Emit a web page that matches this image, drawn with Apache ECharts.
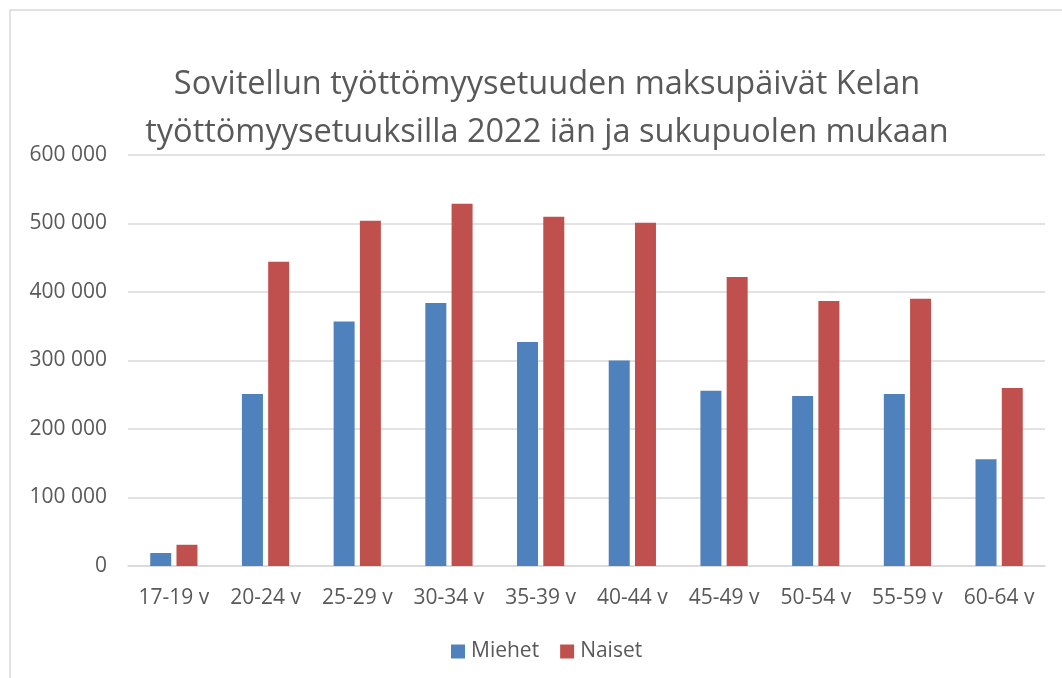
<!DOCTYPE html>
<html>
<head>
<meta charset="utf-8">
<script src="https://cdn.jsdelivr.net/npm/echarts@6/dist/echarts.min.js"></script>
<style>
  html, body { margin: 0; padding: 0; background: #fff; }
  #main { width: 1062px; height: 678px; }
</style>
</head>
<body>
<div id="main"></div>
<script>
// ikäryhmät
var ageGroups = ['17-19 v', '20-24 v', '25-29 v', '30-34 v', '35-39 v', '40-44 v', '45-49 v', '50-54 v', '55-59 v', '60-64 v'];
// maksupäivät
var miehet = [19000, 251000, 357000, 384000, 327000, 300000, 256000, 248000, 251000, 156000];
var naiset = [31000, 444000, 504000, 529000, 510000, 501000, 422000, 387000, 390000, 260000];
var yTicks = [0, 100000, 200000, 300000, 400000, 500000, 600000];

var font = '"Open Sans", sans-serif';
var grey = '#595959';

var chart = echarts.init(document.getElementById('main'));
var option = {
    backgroundColor: '#fff',
    color: ['#4F81BD', '#C0504D'],
    title: {
        text: 'Sovitellun työttömyysetuuden maksupäivät Kelan\ntyöttömyysetuuksilla 2022 iän ja sukupuolen mukaan',
        left: 542,
        top: 56,
        textAlign: 'center',
        textStyle: {
            fontFamily: font,
            fontWeight: 'normal',
            fontSize: 32.5,
            lineHeight: 48,
            color: grey
        }
    },
    //kehys
    graphic: [{
        type: 'rect',
        shape: { x: 10, y: 10, width: 1100, height: 700 },
        style: { fill: 'none', stroke: '#D9D9D9', lineWidth: 1.5 },
        silent: true
    }],
    legend: {
        data: ['Miehet', 'Naiset'],
        left: 451,
        top: 641,
        padding: 0,
        itemWidth: 14,
        itemHeight: 14,
        itemGap: 21,
        icon: 'rect',
        textStyle: { fontFamily: font, fontSize: 21, color: grey, padding: [0, 0, 0, 1] }
    },
    grid: {
        left: 128,
        right: 17,
        top: 155,
        bottom: 112
    },
    xAxis: {
        type: 'category',
        data: ageGroups,
        axisTick: { show: false },
        axisLine: { lineStyle: { color: '#D9D9D9', width: 1.5 } },
        axisLabel: { fontFamily: font, fontSize: 21, color: grey, margin: 22, interval: 0 }
    },
    yAxis: {
        type: 'value',
        min: yTicks[0],
        max: yTicks[yTicks.length - 1],
        interval: yTicks[1] - yTicks[0],
        axisLine: { show: false },
        axisTick: { show: false },
        splitLine: { lineStyle: { color: '#D9D9D9', width: 1.5 } },
        axisLabel: {
            fontFamily: font, fontSize: 21, color: grey, margin: 21,
            formatter: function (v) {
                return String(v).replace(/\B(?=(\d{3})+(?!\d))/g, ' ');
            }
        }
    },
    series: [
        {
            name: 'Miehet',
            type: 'bar',
            barWidth: 21,
            barGap: '25%',
            data: miehet
        },
        {
            name: 'Naiset',
            type: 'bar',
            barWidth: 21,
            data: naiset
        }
    ]
};
chart.setOption(option);
</script>
</body>
</html>
